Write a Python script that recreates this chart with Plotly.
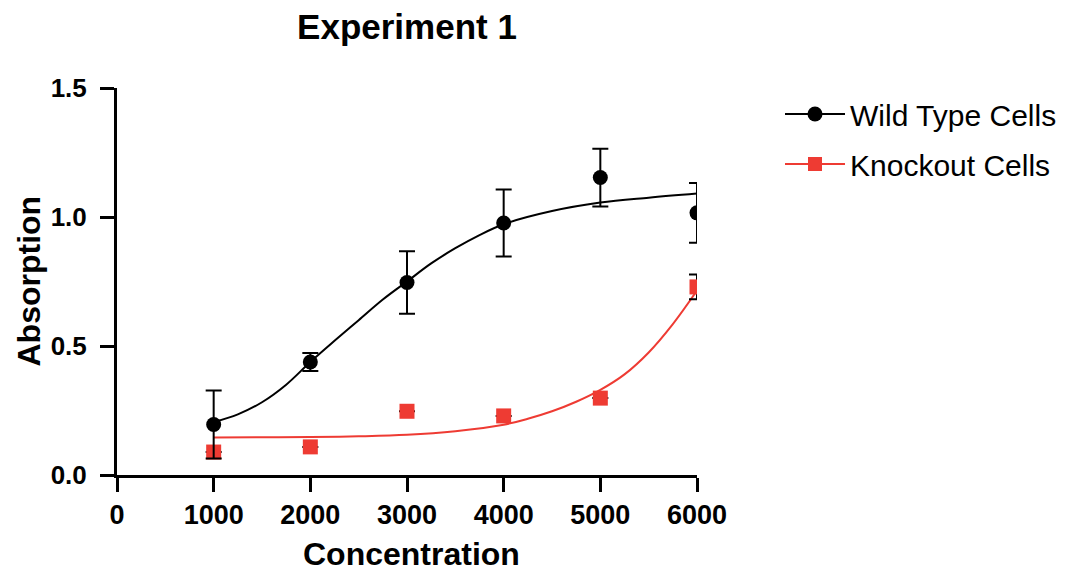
import plotly.graph_objects as go

# ---- data ----
conc = [1000, 2000, 3000, 4000, 5000, 6000]

wt_mean = [0.196, 0.438, 0.746, 0.977, 1.153, 1.016]
wt_err = [0.132, 0.035, 0.121, 0.130, 0.112, 0.116]

ko_mean = [0.089, 0.109, 0.247, 0.229, 0.298, 0.729]
ko_err = [None, None, None, None, None, 0.048]

# fitted curves
wt_fit_x = [1000, 1250, 1500, 1750, 2000, 2250, 2500, 2750, 3000, 3250, 3500, 3750,
            4000, 4500, 5000, 5500, 6000]
wt_fit_y = [0.205, 0.235, 0.282, 0.350, 0.438, 0.520, 0.600, 0.680, 0.750, 0.820, 0.879, 0.930,
            0.972, 1.023, 1.056, 1.075, 1.091]

ko_fit_x = [1000, 1500, 2000, 2500, 3000, 3500, 4000, 4250, 4500, 4750, 5000, 5250, 5500,
            5750, 6000]
ko_fit_y = [0.145, 0.146, 0.147, 0.150, 0.156, 0.170, 0.195, 0.218, 0.247, 0.284, 0.330, 0.390,
            0.475, 0.585, 0.715]

x_ticks = [0, 1000, 2000, 3000, 4000, 5000, 6000]
y_ticks = [0.0, 0.5, 1.0, 1.5]

RED = "#EE3B33"
BLACK = "#000000"
FONT = "Liberation Sans, Arial, sans-serif"

# page body adds an 8px margin, so the figure is 8px smaller than the window
W, H = 1060, 567
ML, MT = 109, 80
PW, PH = 580, 387
MR, MB = W - ML - PW, H - MT - PH

fig = go.Figure()

# knockout fit + points
fig.add_trace(go.Scatter(x=ko_fit_x, y=ko_fit_y, mode="lines",
                         line=dict(color=RED, width=2, shape="spline", smoothing=1.0),
                         showlegend=False, hoverinfo="skip"))
fig.add_trace(go.Scatter(x=conc, y=ko_mean, mode="markers",
                         marker=dict(symbol="square", size=15, color=RED),
                         error_y=dict(type="data", array=ko_err, color=BLACK,
                                      thickness=2, width=8),
                         showlegend=False))

# wild type fit + points
fig.add_trace(go.Scatter(x=wt_fit_x, y=wt_fit_y, mode="lines",
                         line=dict(color=BLACK, width=2, shape="spline", smoothing=1.0),
                         showlegend=False, hoverinfo="skip"))
fig.add_trace(go.Scatter(x=conc, y=wt_mean, mode="markers",
                         marker=dict(symbol="circle", size=15, color=BLACK),
                         error_y=dict(type="data", array=wt_err, color=BLACK,
                                      thickness=2, width=8),
                         showlegend=False))

# legend entries
fig.add_trace(go.Scatter(x=[None], y=[None], mode="lines+markers", name="Wild Type Cells",
                         legendgroup="wt",
                         line=dict(color=BLACK, width=2),
                         marker=dict(symbol="circle", size=15, color=BLACK)))
fig.add_trace(go.Scatter(x=[None], y=[None], mode="lines+markers", name="Knockout Cells",
                         legendgroup="ko",
                         line=dict(color=RED, width=2),
                         marker=dict(symbol="square", size=14, color=RED)))

axis_common = dict(
    showgrid=False, zeroline=False, showline=True, linecolor=BLACK, linewidth=3,
    ticks="outside", ticklen=14, tickwidth=3, tickcolor=BLACK, automargin=False,
)

fig.update_layout(
    width=W, height=H,
    paper_bgcolor="white", plot_bgcolor="white",
    margin=dict(l=ML, r=MR, t=MT, b=MB, autoexpand=False),
    title=dict(text="Experiment 1", x=0.5, xref="paper", y=1 - 6 / H, yref="container",
               xanchor="center", yanchor="top",
               font=dict(family=FONT, size=35, color=BLACK, weight="bold")),
    xaxis=dict(range=[0, 6000], tickvals=x_ticks, ticktext=[str(v) for v in x_ticks],
               tickfont=dict(family=FONT, size=27, color=BLACK, weight="bold"),
               **axis_common),
    yaxis=dict(range=[0, 1.5], tickvals=y_ticks, ticktext=["%.1f" % v for v in y_ticks],
               tickfont=dict(family=FONT, size=26, color=BLACK, weight="bold"),
               ticklabelstandoff=8,
               **axis_common),
    legend=dict(x=(772 - ML) / PW, y=1.0, xanchor="left", yanchor="top",
                font=dict(family=FONT, size=30, color=BLACK),
                bgcolor="rgba(0,0,0,0)", traceorder="grouped", tracegroupgap=8,
                itemwidth=60),
    showlegend=True,
    annotations=[
        dict(text="Concentration", xref="paper", yref="paper",
             x=(403 - ML) / PW, y=(MT + PH - (H - 1)) / PH, xanchor="center", yanchor="bottom",
             showarrow=False,
             font=dict(family=FONT, size=32, color=BLACK, weight="bold")),
        dict(text="Absorption", xref="paper", yref="paper", textangle=-90,
             x=(20 - ML) / PW, y=0.5, xanchor="center", yanchor="middle",
             showarrow=False,
             font=dict(family=FONT, size=32, color=BLACK, weight="bold")),
    ],
)

fig.write_html("out.html")
